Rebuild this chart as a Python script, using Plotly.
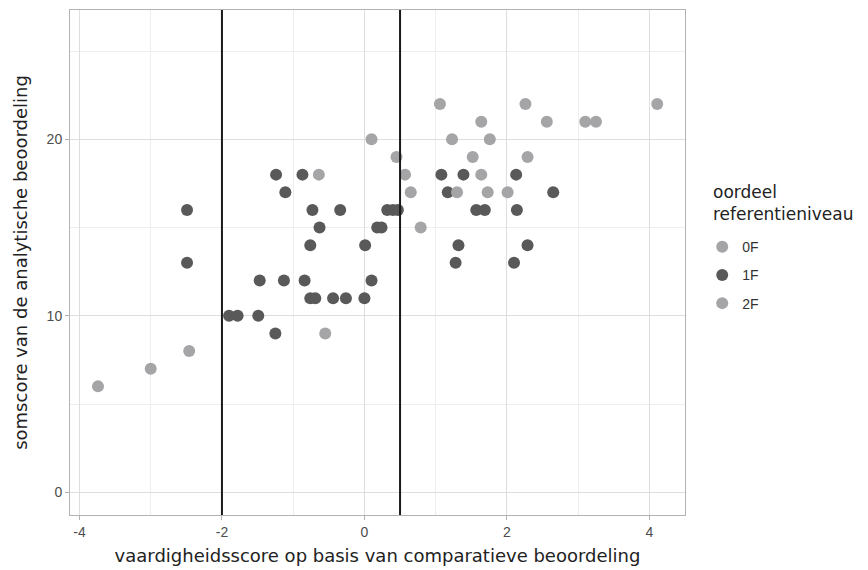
import plotly.graph_objects as go

# ---- data ----
x_0F = [-3.74, -3.00, -2.46, -0.64, -0.55]
y_0F = [6, 7, 8, 18, 9]

x_1F = [-2.49, -2.49, -1.90, -1.78, -1.49, -1.47, -1.25, -1.24, -1.11, -1.13,
        -0.87, -0.84, -0.73, -0.76, -0.63, -0.76, -0.69, -0.44, -0.26, 0.00,
        -0.34, 0.01, 0.10, 0.18, 0.24, 0.32, 0.40, 0.47, 1.08, 1.39,
        2.13, 1.17, 2.65, 1.57, 1.69, 2.14, 1.32, 2.29, 1.28, 2.10]
y_1F = [16, 13, 10, 10, 10, 12, 9, 18, 17, 12,
        18, 12, 16, 14, 15, 11, 11, 11, 11, 11,
        16, 14, 12, 15, 15, 16, 16, 16, 18, 18,
        18, 17, 17, 16, 16, 16, 14, 14, 13, 13]

x_2F = [0.10, 0.45, 0.57, 0.65, 0.79, 1.06, 1.23, 1.30, 1.52, 1.64,
        1.64, 1.73, 1.76, 2.01, 2.26, 2.29, 2.56, 3.10, 3.25, 4.11]
y_2F = [20, 19, 18, 17, 15, 22, 20, 17, 19, 21,
        18, 17, 20, 17, 22, 19, 21, 21, 21, 22]

cut_points = [-2, 0.5]
x_ticks = [-4, -2, 0, 2, 4]
y_ticks = [0, 10, 20]

LIGHT = "#a5a5a8"
DARK = "#595959"

fig = go.Figure()
for name, xs, ys, col in [("0F", x_0F, y_0F, LIGHT), ("1F", x_1F, y_1F, DARK), ("2F", x_2F, y_2F, LIGHT)]:
    fig.add_trace(go.Scatter(
        x=xs, y=ys, mode="markers", name=name, legendgroup=name,
        marker=dict(size=12, color=col, line=dict(width=0)),
    ))

for c in cut_points:
    fig.add_shape(type="line", x0=c, x1=c, xref="x", y0=0, y1=1, yref="paper",
                  line=dict(color="#1a1a1a", width=2), layer="above")

axis_common = dict(
    showline=True, linecolor="#b3b3b3", linewidth=1, mirror=True,
    ticks="outside", ticklen=4, tickcolor="#b3b3b3", tickwidth=1,
    gridcolor="#dedede", gridwidth=1, zeroline=False,
    tickfont=dict(family="Liberation Sans, Arial, sans-serif", size=14, color="#4d4d4d"),
)

fig.update_xaxes(
    range=[-4.133, 4.50], tickvals=x_ticks, ticktext=[str(v) for v in x_ticks],
    minor=dict(tickvals=[-3, -1, 1, 3], showgrid=True, gridcolor="#eeeeee", gridwidth=1, ticks=""),
    title=dict(text="vaardigheidsscore op basis van comparatieve beoordeling",
               font=dict(family="DejaVu Sans, sans-serif", size=18, color="#222222"), standoff=10),
    **axis_common,
)
fig.update_yaxes(
    range=[-1.29, 27.33], tickvals=y_ticks, ticktext=[str(v) for v in y_ticks],
    minor=dict(tickvals=[5, 15, 25], showgrid=True, gridcolor="#eeeeee", gridwidth=1, ticks=""),
    title=dict(text="somscore van de analytische beoordeling",
               font=dict(family="DejaVu Sans, sans-serif", size=18, color="#222222"), standoff=14),
    **axis_common,
)

fig.add_annotation(
    text="oordeel<br>referentieniveau", xref="paper", yref="paper",
    x=1.043, xanchor="left", y=0.618, yanchor="middle", showarrow=False, align="left",
    font=dict(family="DejaVu Sans, sans-serif", size=17, color="#222222"),
)

fig.update_layout(
    width=860, height=562,
    margin=dict(l=62, r=183, t=2, b=55),
    paper_bgcolor="white", plot_bgcolor="white",
    legend=dict(
        x=1.028, xanchor="left", y=0.475, yanchor="middle",
        font=dict(family="Liberation Sans, Arial, sans-serif", size=14, color="#333333"),
        tracegroupgap=7, itemsizing="constant",
    ),
)

fig.write_html("out.html")
